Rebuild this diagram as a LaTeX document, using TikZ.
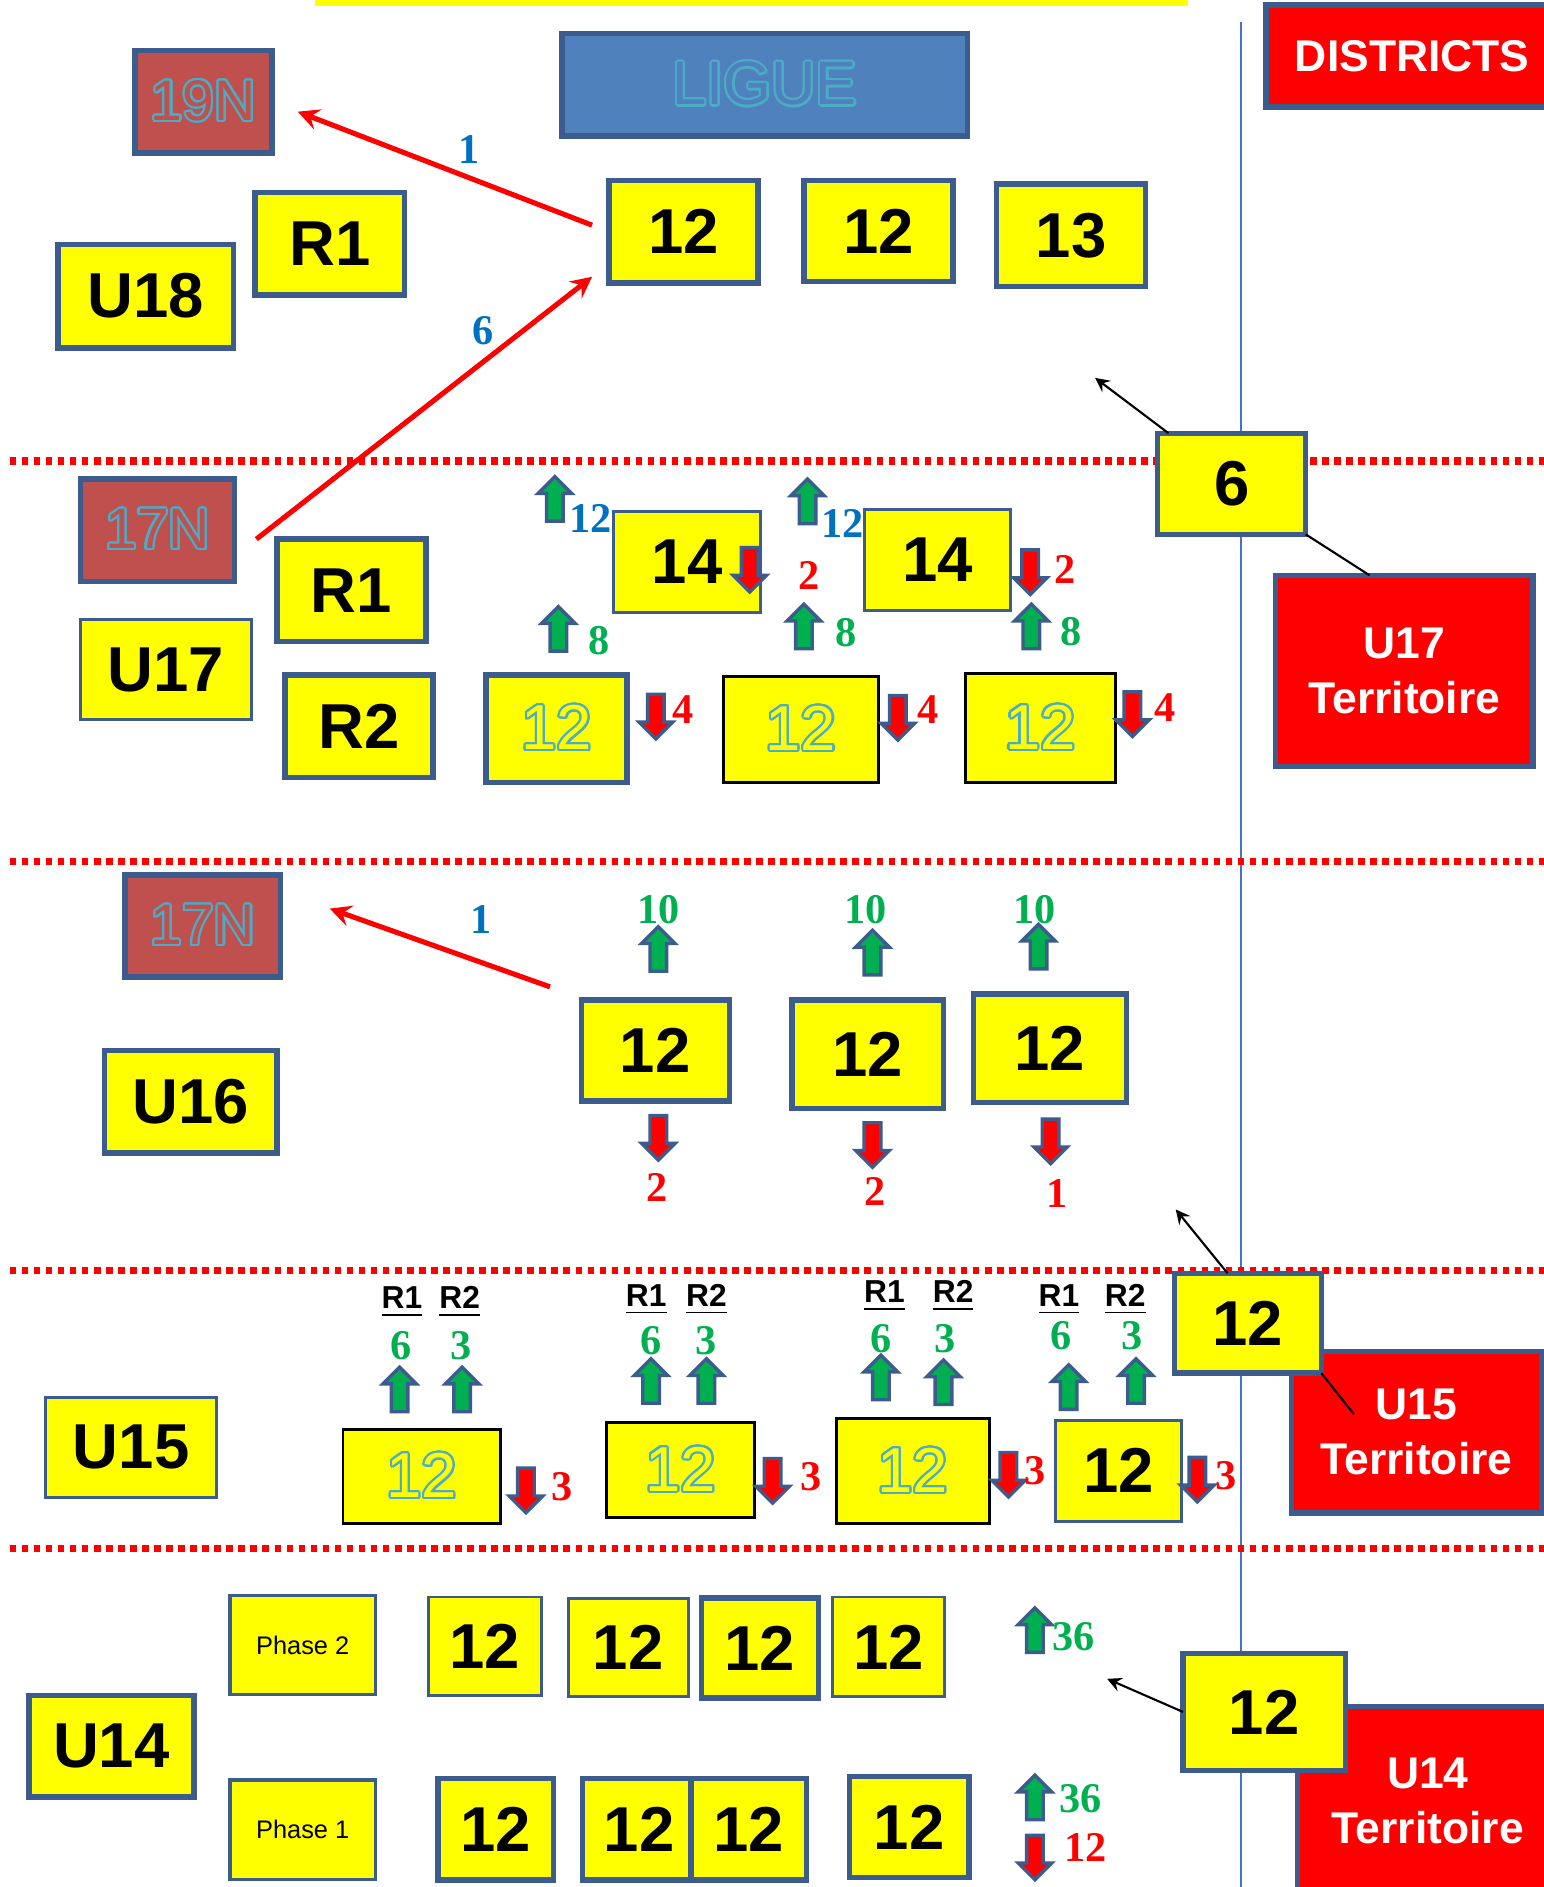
\documentclass[tikz,border=0pt]{standalone}
\usepackage{fontspec}
\setmainfont{Liberation Sans}
\newfontfamily\numfont{Liberation Serif}
\usepackage[copies]{contour}
\contourlength{0.5pt}
\contournumber{24}
\usetikzlibrary{shapes.arrows}

\definecolor{boxyellow}{HTML}{FFFF00}
\definecolor{bordblue}{HTML}{3B5C8C}
\definecolor{brick}{HTML}{C0504D}
\definecolor{ligueblue}{HTML}{4F81BD}
\definecolor{olblue}{HTML}{4BACC6}
\definecolor{numgreen}{HTML}{00B050}
\definecolor{numblue}{HTML}{0070C0}
\definecolor{numred}{HTML}{FF0000}
\definecolor{vblue}{HTML}{4472C4}

\def\pbox[#1](#2)(#3,#4)(#5,#6)#7{\node[#1, minimum width={(#5-#3)*0.01cm}, minimum height={(#6-#4)*0.01cm}] (#2) at ({(#3+#5)/2},{(#4+#6)/2}) {#7};}
\newcommand\outl[2][boxyellow]{\mdseries\contour{olblue}{\textcolor{#1}{#2}}}

\tikzset{
  ybox/.style={draw=bordblue, line width=1.3pt, fill=boxyellow, inner sep=0pt, outer sep=0pt, align=center, font=\bfseries\fontsize{15}{18}\selectfont},
  ythin/.style={ybox, line width=0.7pt},
  yblack/.style={ybox, draw=black, line width=0.7pt},
  nbox/.style={ybox, fill=brick, font=\bfseries\fontsize{13.5}{15}\selectfont},
  lbox/.style={ybox, fill=ligueblue, font=\bfseries\fontsize{14.5}{16}\selectfont},
  rbox/.style={ybox, fill=red, text=white, font=\bfseries\fontsize{10.5}{13}\selectfont},
  phbox/.style={ybox, line width=0.8pt, font=\fontsize{6}{8}\selectfont},
  uparr/.style={single arrow, shape border rotate=90, draw=bordblue, fill=numgreen, line width=0.8pt, inner sep=0.055cm, single arrow head extend=0.07cm, minimum height=0.37cm},
  downarr/.style={uparr, shape border rotate=270, fill=red},
  lblg/.style={text=numgreen, inner sep=0pt, font=\numfont\bfseries\fontsize{10}{12}\selectfont},
  lblr/.style={lblg, text=numred},
  lblb/.style={lblg, text=numblue},
  rlbl/.style={inner sep=0pt, font=\bfseries\fontsize{7.5}{9}\selectfont},
  redarr/.style={->, >=stealth, red, line width=1.2pt},
  blkarr/.style={->, >=stealth, black, line width=0.5pt},
  sepline/.style={red, line width=0.06cm, dash pattern=on 0.055cm off 0.045cm},
  vline/.style={vblue, line width=0.5pt}
}

\begin{document}
\begin{tikzpicture}[x=0.01cm, y=-0.01cm]
		\useasboundingbox (0,0) rectangle (1283,1568);
		%%%%% START %%%%%
		
		\fill[boxyellow] (262,-5) rectangle (987,5);
		
		\draw[vline] (1031,18) -- (1031,1568);
		\foreach \yy in {383,716,1056,1287}
			\draw[sepline] (8,\yy) -- (1283,\yy);
		
		\pbox[lbox](ligue)(467,28)(804,113){\outl[ligueblue]{LIGUE}}
		\pbox[rbox](districts)(1052,4)(1295,89){DISTRICTS}
		
		%%%%% U18 %%%%%
		\pbox[nbox](n19)(112,42)(226,127){\outl[brick]{19N}}
		\pbox[ybox](r1a)(212,160)(336,245){R1}
		\pbox[ybox](u18)(48,203)(194,289){U18}
		\pbox[ybox](l1)(506,150)(630,235){12}
		\pbox[ybox](l2)(668,150)(792,234){12}
		\pbox[ybox](l3)(828,153)(952,238){13}
		
		\draw[redarr, shorten <=0.15cm, shorten >=0.23cm] (l1.west) -- (n19.east);
		\node[lblb] (q1) at (390,124) {1};
		\coordinate (s6) at (213,448);
		\coordinate (e6) at (492,230);
		\draw[redarr] (s6) -- (e6);
		\node[lblb] (q6) at (401,275) {6};
		
		%%%%% U17 %%%%%
		\pbox[rbox](t17)(1060,478)(1274,637){U17\\Territoire}
		\pbox[ybox](six)(962,360)(1085,444){6}
		\coordinate (p6) at (910,314);
		\draw[blkarr] ([xshift=0.09cm]six.north west) -- (p6);
		\draw[line width=0.5pt] (six.south east) -- ([xshift=-0.29cm]t17.north);
		
		\pbox[nbox](n17a)(67,398)(195,483){\outl[brick]{17N}}
		\pbox[ybox](r1b)(230,448)(354,533){R1}
		\pbox[ythin](u17)(67,515)(209,598){U17}
		\pbox[ybox](r2b)(237,561)(360,646){R2}
		
		\pbox[ythin](f1)(510,425)(632,509){14}
		\pbox[ythin](f2)(718,423)(840,507){14}
		\pbox[ybox](m1)(404,561)(521,650){\outl{12}}
		\pbox[yblack](m2)(601,562)(730,650){\outl{12}}
		\pbox[yblack](m3)(802,560)(927,650){\outl{12}}
		
		\node[uparr] (ua1) at (461,418) {};
		\node[lblb] (la1) at (491,431) {12};
		\node[uparr] (ua2) at (671,420) {};
		\node[lblb] (la2) at (700,435) {12};
		\node[downarr] (da1) at (623,470) {};
		\node[lblr] (lb1) at (672,478) {2};
		\node[downarr] (da2) at (856,472) {};
		\node[lblr] (lb2) at (885,473) {2};
		
		\node[uparr] (ub1) at (464,526) {};
		\node[lblg] (lc1) at (498,532) {8};
		\node[uparr] (ub2) at (668,524) {};
		\node[lblg] (lc2) at (703,526) {8};
		\node[uparr] (ub3) at (857,524) {};
		\node[lblg] (lc3) at (890,525) {8};
		
		\node[downarr] (db1) at (545,592) {};
		\node[lblr] (ld1) at (568,590) {4};
		\node[downarr] (db2) at (746,593) {};
		\node[lblr] (ld2) at (771,590) {4};
		\node[downarr] (db3) at (941,590) {};
		\node[lblr] (ld3) at (968,588) {4};
		
		%%%%% U16 %%%%%
		\pbox[nbox](n17b)(104,727)(233,812){\outl[brick]{17N}}
		\pbox[ybox](u16)(87,873)(230,958){U16}
		\pbox[ybox](k1)(483,831)(606,915){12}
		\pbox[ybox](k2)(658,831)(784,921){12}
		\pbox[ybox](k3)(809,826)(936,916){12}
		
		\coordinate (s16) at (457,820);
		\coordinate (e16) at (274,755);
		\draw[redarr] (s16) -- (e16);
		\node[lblb] (q16) at (400,764) {1};
		
		\foreach \xx/\yy/\nm in {547/792/1, 725/795/2, 863/790/3}
			\node[uparr] (uk\nm) at (\xx,\yy) {};
		\foreach \xx/\nm in {547/1, 719/2, 860/3}
			\node[lblg] (gk\nm) at (\xx,756) {10};
		\foreach \xx/\yy/\nm in {547/942/1, 725/948/2, 873/945/3}
			\node[downarr] (dk\nm) at (\xx,\yy) {};
		\node[lblr] (rk1) at (546,987) {2};
		\node[lblr] (rk2) at (727,990) {2};
		\node[lblr] (rk3) at (878,992) {1};
		
		%%%%% U15 %%%%%
		\pbox[rbox](t15)(1073,1123)(1281,1257){U15\\Territoire}
		\pbox[ybox](b15)(976,1058)(1098,1141){12}
		\coordinate (p15) at (977,1005);
		\draw[blkarr] ([xshift=0.44cm]b15.north west) -- (p15);
		\draw[line width=0.5pt] (b15.south east) -- ([xshift=-0.52cm,yshift=-0.52cm]t15.north);
		
		\pbox[ythin](u15)(38,1161)(180,1244){U15}
		\pbox[yblack](h1)(285,1188)(416,1266){\outl{12}}
		\pbox[yblack](h2)(504,1182)(627,1261){\outl{12}}
		\pbox[yblack](h3)(695,1179)(822,1266){\outl{12}}
		\pbox[ythin](h4)(877,1180)(982,1264){12}
		
		\foreach \xa/\xb/\yy/\nm in {334/382/1082/1, 537/587/1080/2, 735/792/1077/3, 880/935/1080/4} {
			\node[rlbl] (ra\nm) at (\xa,\yy) {\underline{R1}};
			\node[rlbl] (rb\nm) at (\xb,\yy) {\underline{R2}};
		}
		\foreach \xa/\xb/\yy/\nm in {333/383/1118/1, 541/587/1114/2, 732/785/1112/3, 882/941/1110/4} {
			\node[lblg] (ga\nm) at (\xa,\yy) {6};
			\node[lblg] (gb\nm) at (\xb,\yy) {3};
		}
		\foreach \xx/\yy/\nm in {332/1158/1, 384/1158/2, 541/1151/3, 587/1151/4, 732/1148/5, 784/1152/6, 888/1156/7, 944/1151/8}
			\node[uparr] (uh\nm) at (\xx,\yy) {};
		\foreach \xx/\yy/\xl/\nm in {437/1235/467/1, 642/1227/674/2, 838/1222/860/3, 995/1226/1019/4} {
			\node[downarr] (dh\nm) at (\xx,\yy) {};
			\node[lblr] (rh\nm) at (\xl,\yy) {3};
		}
		
		%%%%% U14 %%%%%
		\pbox[rbox](t14)(1078,1418)(1295,1575){U14\\Territoire}
		\pbox[ybox](b14)(983,1374)(1118,1471){12}
		\coordinate (p14) at (920,1395);
		\draw[blkarr] (b14.west) -- (p14);
		
		\pbox[ybox](u14)(24,1409)(161,1493){U14}
		\pbox[phbox](ph2)(191,1326)(312,1408){Phase 2}
		\pbox[phbox](ph1)(191,1479)(312,1562){Phase 1}
		
		\pbox[ythin](a1)(356,1327)(450,1409){12}
		\pbox[ythin](a2)(472,1328)(572,1410){12}
		\pbox[ybox](a3)(583,1328)(680,1411){12}
		\pbox[ythin](a4)(692,1327)(785,1410){12}
		
		\pbox[ybox](c1)(364,1478)(460,1562){12}
		\pbox[ybox](c2)(484,1478)(578,1562){12}
		\pbox[ybox](c3)(574,1478)(670,1562){12}
		\pbox[ybox](c4)(706,1476)(805,1560){12}
		
		\node[uparr] (uz1) at (860,1358) {};
		\node[lblg] (gz1) at (892,1360) {36};
		\node[uparr] (uz2) at (860,1497) {};
		\node[lblg] (gz2) at (898,1495) {36};
		\node[downarr] (dz1) at (860,1540) {};
		\node[lblr] (rz1) at (902,1535) {12};
		
		%%%%% END %%%%%
\end{tikzpicture}
\end{document}
